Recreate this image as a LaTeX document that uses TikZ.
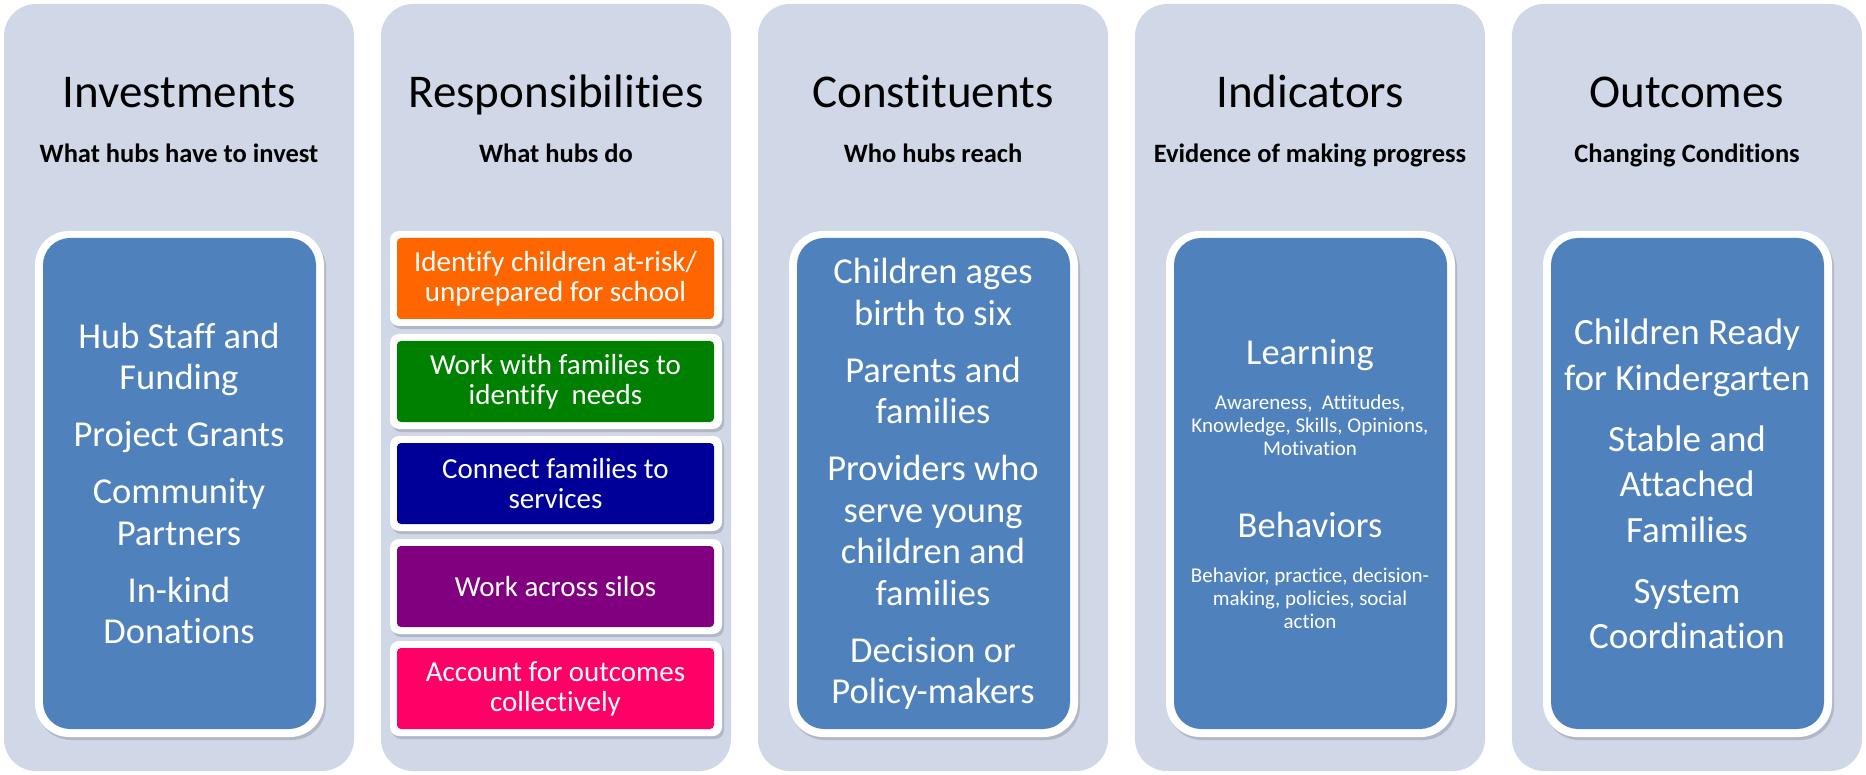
\documentclass[tikz,border=0pt]{standalone}
\usepackage{fontspec}
\setmainfont{Carlito}[Ligatures={NoCommon,NoContextual}]
\definecolor{panelgray}{HTML}{D0D8E8}
\definecolor{cardblue}{HTML}{4F81BD}
\definecolor{taskorange}{HTML}{FF6600}
\definecolor{taskgreen}{HTML}{008000}
\definecolor{tasknavy}{HTML}{000099}
\definecolor{taskpurple}{HTML}{800080}
\definecolor{taskpink}{HTML}{FF0066}

\tikzset{
  panelbox/.style={fill=panelgray, rounded corners=32pt},
  framebox/.style={fill=white, rounded corners=#1},
  shadowbox/.style={fill=black, opacity=0.15, rounded corners=#1},
  titletext/.style={anchor=base, font=\fontsize{47}{56}\selectfont},
  subtext/.style={anchor=base, font=\bfseries\fontsize{26.5}{30}\selectfont},
  cardtext/.style={text=white, align=center, inner sep=0pt, font=\fontsize{36.5}{41.5}\selectfont},
  tasktext/.style={text=white, align=center, inner sep=0pt, font=\fontsize{29}{30}\selectfont},
  smalltext/.style={text=white, align=center, inner sep=0pt, font=\fontsize{21}{23}\selectfont}
}

\newcommand{\hubcolumn}[4]{
\fill[panelbox] (#2,4) rectangle (#2+350,771);
\node[titletext] (#1title) at (#2+175,108) {#3};
\node[subtext] (#1sub) at (#2+175,163) {#4};
}
\newcommand{\bluecard}[1]{
\fill[shadowbox=34pt] (#1+33,234) rectangle (#1+322,740);
\fill[framebox=34pt] (#1+31,231) rectangle (#1+320,737);
\fill[cardblue, rounded corners=27pt] (#1+39,238) rectangle (#1+312,729);
}
\newcommand{\taskbox}[4]{
\fill[shadowbox=9pt] (392,#2-5) rectangle (724,#2+91);
\fill[framebox=9pt] (390,#2-7) rectangle (722,#2+88);
\fill[#3, rounded corners=4pt] (397,#2) rectangle (714,#2+81);
\node[tasktext] (#1) at (555.5,#2+40.5) {#4};
}

\begin{document}
\begin{tikzpicture}[x=1pt,y=-1pt]
\useasboundingbox (0,0) rectangle (1866,775);

\hubcolumn{inv}{4}{Investments}{What hubs have to invest}
\hubcolumn{resp}{381}{Responsibilities}{What hubs do}
\hubcolumn{cons}{758}{Constituents}{Who hubs reach}
\hubcolumn{ind}{1135}{Indicators}{Evidence of making progress}
\hubcolumn{out}{1512}{Outcomes}{Changing Conditions}

\bluecard{4}
\node[cardtext] (invlist) at (179,483.5) {Hub Staff and\\Funding\\[15.5pt]Project Grants\\[15.5pt]Community\\Partners\\[15.5pt]In-kind\\Donations};

\taskbox{identify}{238}{taskorange}{Identify children at-risk/\\unprepared for school}
\taskbox{needs}{341}{taskgreen}{Work with families to\\identify\ \ needs}
\taskbox{connect}{443}{tasknavy}{Connect families to\\services}
\taskbox{silos}{546}{taskpurple}{Work across silos}
\taskbox{account}{648}{taskpink}{Account for outcomes\\collectively}

\bluecard{758}
\node[cardtext] (conslist) at (933,484) {Children ages\\birth to six\\[15.5pt]Parents and\\families\\[15.5pt]Providers who\\serve young\\children and\\families\\[15.5pt]Decision or\\Policy-makers};

\bluecard{1135}
\node[cardtext, anchor=base] (learn) at (1310,365) {Learning};
\node[smalltext] (learnlist) at (1310,425) {Awareness,\ \ Attitudes,\\Knowledge, Skills, Opinions,\\Motivation};
\node[cardtext, anchor=base] (behave) at (1310,537) {Behaviors};
\node[smalltext] (behavelist) at (1310,598) {Behavior, practice, decision-\\making, policies, social\\action};

\bluecard{1512}
\node[cardtext, font=\fontsize{37}{45.5}\selectfont] (outlist) at (1687,484) {Children Ready\\for Kindergarten\\[15.5pt]Stable and\\Attached\\Families\\[15.5pt]System\\Coordination};
\end{tikzpicture}
\end{document}
